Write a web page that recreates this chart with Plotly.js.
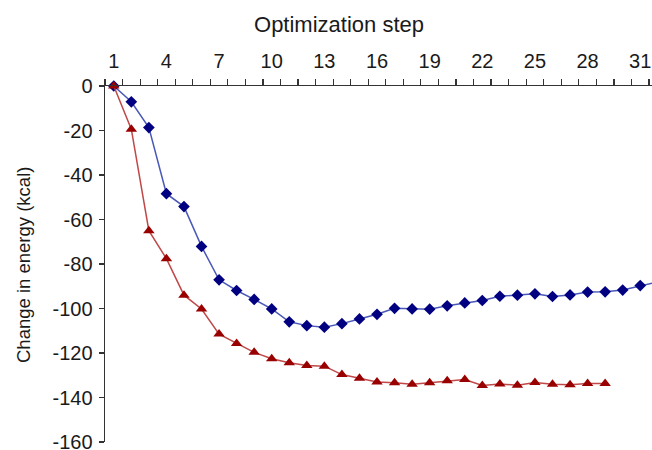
<!DOCTYPE html>
<html>
<head>
<meta charset="utf-8">
<script src="https://cdn.plot.ly/plotly-3.0.1.min.js"></script>
<style>html,body{margin:0;padding:0;background:#fff;}#chart{width:652px;height:450px;}</style>
</head>
<body>
<div id="chart"></div>
<script>
var blueEnergy = [0, -7.1, -18.7, -48.4, -54.2, -72.1, -87.1, -91.9, -95.9, -100.2, -106.0, -107.7, -108.4, -106.8, -104.7, -102.6, -99.9, -100.2, -100.3, -98.8, -97.5, -96.4, -94.5, -94.0, -93.4, -94.6, -93.9, -92.6, -92.5, -91.7, -89.7, -88.0];
var redEnergy = [0, -19.4, -65.0, -77.6, -94.0, -100.2, -111.5, -115.7, -119.7, -122.6, -124.4, -125.6, -125.9, -129.7, -131.4, -133.0, -133.4, -134.0, -133.4, -132.5, -131.9, -134.6, -133.9, -134.5, -133.3, -134.0, -134.3, -133.7, -133.7];
var tickSteps = [1, 4, 7, 10, 13, 16, 19, 22, 25, 28, 31];
var yTicks = [0, -20, -40, -60, -80, -100, -120, -140, -160];
var yTickLabels = ['0', '-20', '-40', '-60', '-80', '-100', '-120', '-140', '-160'];

var blueSteps = blueEnergy.map(function(_, i){ return i + 1; });
var redSteps = redEnergy.map(function(_, i){ return i + 1; });

var font = 'Liberation Sans, Arial, sans-serif';

var traces = [
  {
    x: blueSteps, y: blueEnergy, type: 'scatter', mode: 'lines+markers',
    line: {color: '#4a58b8', width: 1.5},
    marker: {symbol: 'diamond', size: 9, color: '#000080'},
    cliponaxis: false, hoverinfo: 'x+y'
  },
  {
    x: redSteps, y: redEnergy, type: 'scatter', mode: 'lines+markers',
    line: {color: '#c04848', width: 1.5},
    marker: {symbol: 'triangle-up', size: 10, color: '#990000'},
    cliponaxis: false, hoverinfo: 'x+y'
  }
];

var layout = {
  width: 652, height: 450,
  margin: {l: 105, r: 0, t: 86, b: 8, pad: 0},
  paper_bgcolor: '#fff', plot_bgcolor: '#fff',
  showlegend: false,
  font: {family: font, color: '#1a1a1a'},
  title: {
    text: 'Optimization step',
    font: {family: font, size: 22, color: '#1a1a1a'},
    x: 339 / 652, xref: 'container', xanchor: 'center',
    y: 1 - 24 / 450, yref: 'container', yanchor: 'middle'
  },
  xaxis: {
    side: 'top', range: [0.5, 31.67], showgrid: false, zeroline: false,
    showline: true, linecolor: '#333', linewidth: 1.5,
    tickmode: 'array', tickvals: tickSteps,
    ticks: 'outside', ticklen: 6, tickcolor: 'rgba(0,0,0,0)',
    ticklabelstandoff: 3,
    tickfont: {family: font, size: 20, color: '#1a1a1a'},
    minor: {tick0: 0.5, dtick: 1, ticks: 'outside', ticklen: 6, tickwidth: 1.2, tickcolor: '#333', showgrid: false}
  },
  yaxis: {
    range: [-160, 0], showgrid: false, zeroline: false,
    showline: true, linecolor: '#333', linewidth: 1.5,
    tickmode: 'array', tickvals: yTicks, ticktext: yTickLabels,
    ticks: 'outside', ticklen: 5, tickwidth: 1.2, tickcolor: '#333',
    ticklabelstandoff: 2, ticklabeloverflow: 'allow',
    tickfont: {family: font, size: 20, color: '#1a1a1a'}
  },
  annotations: [{
    text: 'Change in energy (kcal)', textangle: -90, showarrow: false,
    xref: 'paper', yref: 'paper', x: (23 - 105) / 547, y: (442 - 265) / 356,
    xanchor: 'center', yanchor: 'middle',
    font: {family: font, size: 18.5, color: '#1a1a1a'}
  }]
};

Plotly.newPlot('chart', traces, layout, {displayModeBar: false, staticPlot: true});
</script>
</body>
</html>
